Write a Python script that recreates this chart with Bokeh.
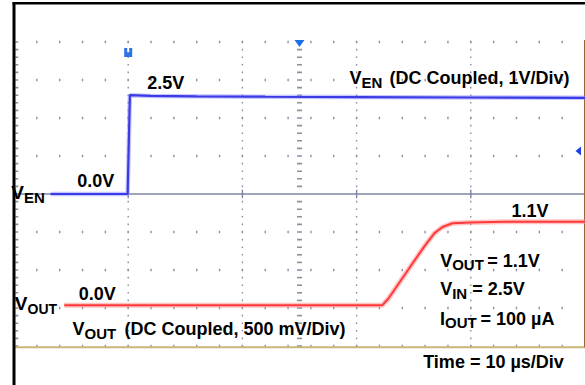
from bokeh.plotting import figure
from bokeh.models import Range1d
from bokeh.core.properties import value
from bokeh.embed import file_html
from bokeh.resources import INLINE

W, H = 585, 385

# ---- scope settings ----
TIME_PER_DIV_US = 10.0
VEN_V_PER_DIV = 1.0
VOUT_V_PER_DIV = 0.5
VEN_OFFSET_DIV = 0.0
VOUT_OFFSET_DIV = -2.93
TRIGGER_LEVEL_V = 1.13
H_MARKER_US = 15.0
SCREEN_T = [-10.0, 40.0]   # visible window, µs relative to trigger
N_DIV_HALF = 4              # +/- vertical divisions

# ---- captured traces (µs from trigger, volts) ----
ven_t = [-6.8, -0.05, 0.15, 2.0, 6.0, 12.0, 20.0, 30.0, 40.0]
ven_v = [0.0, 0.0, 2.60, 2.58, 2.57, 2.56, 2.55, 2.54, 2.53]

vout_t = [-5.6, 22.24, 22.79, 23.84, 24.89, 25.95, 26.82, 27.52, 28.40, 29.97, 33.0, 40.0]
vout_v = [0.0, 0.0, 0.09, 0.32, 0.55, 0.78, 0.95, 1.03, 1.08, 1.09, 1.10, 1.10]

# ---- screen geometry (pixels) ----
PX_T0 = 127.7
PX_PER_US = 11.42
PX_Y0 = 193.5
PX_PER_DIV = 38.0


def tx(px):
    return (px - PX_T0) / PX_PER_US


def dy(py):
    return (PX_Y0 - py) / PX_PER_DIV


p = figure(width=W, height=H,
           x_range=Range1d(tx(0), tx(W)), y_range=Range1d(dy(H), dy(0)),
           output_backend="svg", toolbar_location=None,
           x_axis_type=None, y_axis_type=None, min_border=0,
           outline_line_color=None, background_fill_color="white",
           border_fill_color="white")

GRID = "#8a90a2"
minor_us = TIME_PER_DIV_US / 5.0
n_minor = int(round((SCREEN_T[1] - SCREEN_T[0]) / minor_us))
minor_t = [SCREEN_T[0] + minor_us * k for k in range(n_minor + 1)]
minor_div = [round(-N_DIV_HALF + 0.2 * k, 3) for k in range(int(N_DIV_HALF * 10) + 1)]

# dotted rows
row_x, row_y = [], []
for r in range(-N_DIV_HALF, N_DIV_HALF + 1):
    if r == 0:
        continue
    for t in minor_t[1:-1]:
        row_x.append(t)
        row_y.append(r)
p.rect(row_x, row_y, width=1.4, height=2.6, width_units="screen",
       height_units="screen", fill_color=GRID, line_color=None)

# dotted columns
col_x, col_y = [], []
for t in [0.0, 10.0, 20.0, 30.0]:
    for d in minor_div:
        col_x.append(t)
        col_y.append(d)
p.rect(col_x, col_y, width=1.4, height=1.6, width_units="screen",
       height_units="screen", fill_color=GRID, line_color=None)

# centre column and left edge: short tick dashes
tick_divs = [d for d in minor_div if abs(d) > 1e-6]
p.rect([H_MARKER_US] * len(tick_divs), tick_divs, width=5, height=1.6,
       width_units="screen", height_units="screen", fill_color=GRID, line_color=None)
p.rect([tx(16.3)] * len(tick_divs), tick_divs, width=3, height=1.6,
       width_units="screen", height_units="screen", fill_color=GRID, line_color=None)

# centre horizontal line with crossing ticks
p.line(SCREEN_T, [0, 0], line_color="#7d86a6", line_width=1.6)
p.segment(x0=[0.0, 10.0, 20.0, 30.0], y0=[-0.11] * 4, x1=[0.0, 10.0, 20.0, 30.0],
          y1=[0.11] * 4, line_color="#7d86a6", line_width=1.4)

# bottom and right edges of the screen
p.line(SCREEN_T, [-N_DIV_HALF - 0.03] * 2, line_color="#c8b57a", line_width=2)
p.line([SCREEN_T[1]] * 2, [-N_DIV_HALF - 0.03, N_DIV_HALF + 0.05],
       line_color="#9b6636", line_width=2)

# black frame
p.line([SCREEN_T[0]] * 2, [dy(H), dy(2)], line_color="black", line_width=3)
p.line([tx(12), tx(W)], [dy(2.8)] * 2, line_color="black", line_width=2.6)

# traces
ven_div = [v / VEN_V_PER_DIV + VEN_OFFSET_DIV for v in ven_v]
vout_div = [v / VOUT_V_PER_DIV + VOUT_OFFSET_DIV for v in vout_v]
p.line(ven_t, ven_div, line_color="#8c8cff", line_alpha=0.5, line_width=4.5)
p.line(ven_t, ven_div, line_color="#3b3be6", line_width=2.2)
p.line(vout_t, vout_div, line_color="#ff8f8f", line_alpha=0.55, line_width=5)
p.line(vout_t, vout_div, line_color="#ff3a3a", line_width=2)

# trigger markers
u_y = dy(52)
p.rect([0.0], [u_y], width=8, height=9, width_units="screen", height_units="screen",
       fill_color="#2f74e6", line_color=None)
p.rect([0.0], [u_y + 2.5 / PX_PER_DIV], width=2, height=4.5, width_units="screen",
       height_units="screen", fill_color="white", line_color=None)
p.patch([H_MARKER_US - 5 / PX_PER_US, H_MARKER_US + 5 / PX_PER_US, H_MARKER_US],
        [dy(39.5), dy(39.5), dy(46.5)], fill_color="#1f6fe6", line_color=None)
lvl = TRIGGER_LEVEL_V / VEN_V_PER_DIV + VEN_OFFSET_DIV
p.patch([tx(580.5), tx(580.5), tx(575)],
        [lvl + 4.5 / PX_PER_DIV, lvl - 4.5 / PX_PER_DIV, lvl],
        fill_color="#1a3fe6", line_color=None)

FONT = value("Liberation Sans")


def label(x_px, base_px, text, size, align="left"):
    p.text(x=[tx(x_px)], y=[dy(base_px)], text=[text], text_font=FONT,
           text_font_style="bold", text_font_size=f"{size}px", text_color="black",
           text_align=align, text_baseline="alphabetic")


def sub_label(split_px, base_px, main, sub, rest, rest_px, main_size, sub_size, drop):
    label(split_px, base_px, main, main_size, align="right")
    label(split_px, base_px + drop, sub, sub_size)
    if rest:
        label(rest_px, base_px, rest, main_size)


# channel labels on the left
sub_label(23.5, 192, "V", "EN", "", 0, 19, 15, 5)
sub_label(27.0, 302.5, "V", "OUT", "", 0, 19, 14, 5.5)

# value readouts
label(146.7, 82.5, "2.5V", 18)
label(76.7, 180.7, "0.0V", 18)
label(78.3, 293, "0.0V", 18)
label(511, 210, "1.1V", 18)

# channel descriptions
sub_label(361, 77, "V", "EN", "(DC Coupled, 1V/Div)", 389, 18, 15, 4.5)
sub_label(84, 328.5, "V", "OUT", "(DC Coupled, 500 mV/Div)", 124, 18, 15, 4.5)

# test conditions
sub_label(451.7, 260, "V", "OUT", "= 1.1V", 486.7, 18, 15, 4)
sub_label(451.7, 288.5, "V", "IN", "= 2.5V", 471.7, 18, 15, 4)
sub_label(444.5, 318, "I", "OUT", "= 100 µA", 480, 18, 15, 4)

label(422.7, 361.7, "Time = 10 µs/Div", 18)

open("out.html", "w").write(file_html(p, INLINE))
